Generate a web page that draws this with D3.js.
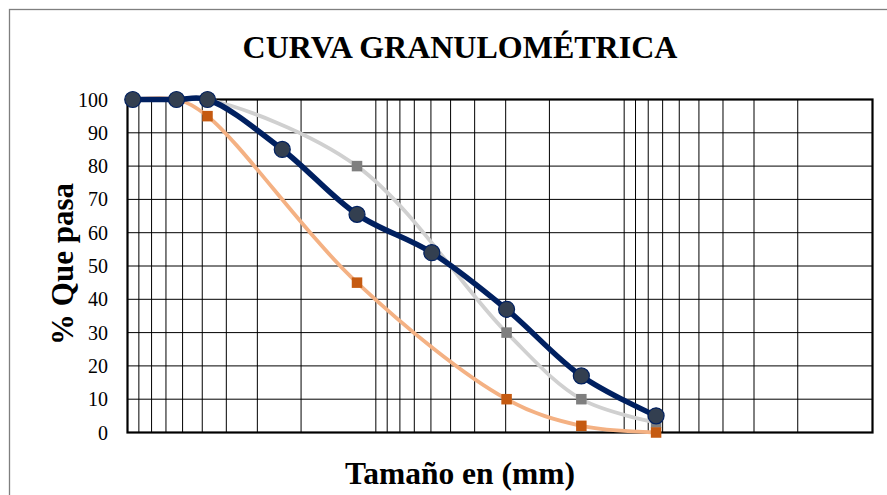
<!DOCTYPE html>
<html>
<head>
<meta charset="utf-8">
<script src="https://cdn.jsdelivr.net/npm/d3@7"></script>
<style>
  body { margin: 0; background: #fff; }
  text { font-family: "Liberation Serif", "Times New Roman", serif; }
</style>
</head>
<body>
<div class="d3-chart"></div>
<script>
// tamices (mm) y % que pasa
const tamanos = [76.2, 50.8, 38.1, 19.05, 9.525, 4.76, 2.38, 1.19, 0.595];
const pasa = [100, 100, 100, 85, 65.5, 54, 37, 17, 5];
const limiteSuperior = [100, 100, 100, null, 80, null, 30, 10, 3];
const limiteInferior = [100, 100, 95, null, 45, null, 10, 2, 0];
const yTicks = [0, 10, 20, 30, 40, 50, 60, 70, 80, 90, 100];

const width = 887, height = 495;
const plot = {left: 127.5, right: 872.5, top: 99.5, bottom: 432.5};

const svg = d3.select(".d3-chart")
  .append("svg")
  .attr("width", width)
  .attr("height", height);

// outer chart border (cut off at right/bottom like the reference)
svg.append("rect")
  .attr("x", 9.5).attr("y", 9.5)
  .attr("width", width + 20).attr("height", height + 20)
  .attr("fill", "#fff")
  .attr("stroke", "#7f7f7f")
  .attr("stroke-width", 1.3);

// log axis, reversed: big sizes on the left
const x = d3.scaleLog()
  .domain([80, 0.08])
  .range([plot.left, plot.right]);

const y = d3.scaleLinear()
  .domain([0, 100])
  .range([plot.bottom, plot.top]);

// vertical gridlines at 1..9 x each decade
const xGrid = [];
[0.08, 0.8, 8].forEach(d => {
  for (let k = 1; k <= 9; k++) xGrid.push(d * k);
});

const grid = svg.append("g");

grid.selectAll(".vx")
  .data(xGrid.filter(v => v < 80 && v > 0.08))
  .join("line")
    .attr("x1", d => x(d)).attr("x2", d => x(d))
    .attr("y1", plot.top).attr("y2", plot.bottom)
    .attr("stroke", "#000")
    .attr("stroke-width", 1);

grid.selectAll(".hy")
  .data(yTicks.filter(v => v > 0 && v < 100))
  .join("line")
    .attr("x1", plot.left).attr("x2", plot.right)
    .attr("y1", d => y(d)).attr("y2", d => y(d))
    .attr("stroke", "#000")
    .attr("stroke-width", 1);

// plot border
svg.append("rect")
  .attr("x", plot.left).attr("y", plot.top)
  .attr("width", plot.right - plot.left)
  .attr("height", plot.bottom - plot.top)
  .attr("fill", "none")
  .attr("stroke", "#000")
  .attr("stroke-width", 2.2);

// y tick labels
svg.append("g")
  .selectAll("text")
  .data(yTicks)
  .join("text")
    .attr("x", 108)
    .attr("y", d => y(d))
    .attr("dy", "0.35em")
    .attr("text-anchor", "end")
    .attr("font-size", 20)
    .attr("fill", "#000")
    .text(d => d);

// titles
svg.append("text")
  .attr("x", 460).attr("y", 58)
  .attr("text-anchor", "middle")
  .attr("font-size", 32)
  .attr("font-weight", "bold")
  .text("CURVA GRANULOMÉTRICA");

svg.append("text")
  .attr("transform", "translate(73,264) rotate(-90)")
  .attr("text-anchor", "middle")
  .attr("font-size", 31)
  .attr("font-weight", "bold")
  .text("% Que pasa");

svg.append("text")
  .attr("x", 460).attr("y", 484)
  .attr("text-anchor", "middle")
  .attr("font-size", 31.5)
  .attr("font-weight", "bold")
  .text("Tamaño en (mm)");

// series
function toPoints(vals) {
  return tamanos.map((t, i) => ({t: t, v: vals[i]})).filter(d => d.v != null);
}

const line = d3.line()
  .x(d => x(d.t))
  .y(d => y(d.v))
  .curve(d3.curveCatmullRom.alpha(0.5));

const series = [
  {name: "sup", data: toPoints(limiteSuperior), line: "#d0d0d0", lw: 3.8, marker: "#7f7f7f"},
  {name: "inf", data: toPoints(limiteInferior), line: "#f4b183", lw: 3.8, marker: "#c55a11"},
  {name: "muestra", data: toPoints(pasa), line: "#002060", lw: 5.5, marker: "#333f50"}
];

series.forEach(s => {
  svg.append("path")
    .datum(s.data)
    .attr("d", line)
    .attr("fill", "none")
    .attr("stroke", s.line)
    .attr("stroke-width", s.lw)
    .attr("stroke-linejoin", "round")
    .attr("stroke-linecap", "round");
});

series.forEach(s => {
  const g = svg.append("g");
  if (s.name === "muestra") {
    g.selectAll("circle")
      .data(s.data)
      .join("circle")
        .attr("cx", d => x(d.t))
        .attr("cy", d => y(d.v))
        .attr("r", 8)
        .attr("fill", s.marker)
        .attr("stroke", "#002060")
        .attr("stroke-width", 1.2);
  } else {
    const sz = 10.5;
    g.selectAll("rect")
      .data(s.data)
      .join("rect")
        .attr("x", d => x(d.t) - sz / 2)
        .attr("y", d => y(d.v) - sz / 2)
        .attr("width", sz)
        .attr("height", sz)
        .attr("fill", s.marker);
  }
});
</script>
</body>
</html>
